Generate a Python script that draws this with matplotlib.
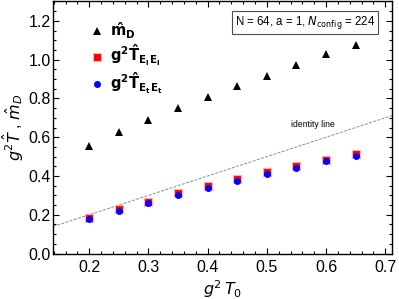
import matplotlib
matplotlib.use("Agg")
import matplotlib.pyplot as plt
from matplotlib.ticker import MultipleLocator

plt.rcParams["font.family"] = ["Liberation Sans", "DejaVu Sans"]
plt.rcParams["mathtext.fontset"] = "dejavusans"

# données
g2T0 = [0.20, 0.25, 0.30, 0.35, 0.40, 0.45, 0.50, 0.55, 0.60, 0.65]
mD = [0.554, 0.625, 0.691, 0.751, 0.807, 0.864, 0.917, 0.970, 1.027, 1.073]
T_ElEl = [0.185, 0.228, 0.267, 0.311, 0.348, 0.383, 0.419, 0.451, 0.480, 0.511]
T_EtEt = [0.178, 0.219, 0.262, 0.300, 0.339, 0.375, 0.410, 0.442, 0.475, 0.502]
xlim = (0.139, 0.711)
ylim = (0.0, 1.303)

fig = plt.figure(figsize=(3.99, 2.99), dpi=100)
ax = fig.add_axes([0.133, 0.152, 0.849, 0.845])

# ligne identité
ax.plot(xlim, xlim, ls=(0, (3, 1.5)), color="0.55", lw=0.7, zorder=1)
ax.text(0.577, 0.664, "identity line", fontsize=6.2, ha="center", va="center")

ax.plot(g2T0, mD, "^", color="black", ms=5.5, mew=0, label=r"$\mathbf{\hat{m}_D}$")
ax.plot(g2T0, T_ElEl, "s", color="red", ms=5.2, mew=0.8, mec="#ffb0b0",
        label=r"$\mathbf{g^2\hat{T}_{E_l\,E_l}}$")
ax.plot(g2T0, T_EtEt, "o", color="blue", ms=5, mew=0,
        label=r"$\mathbf{g^2\hat{T}_{E_t\,E_t}}$")

ax.set_xlim(*xlim)
ax.set_ylim(*ylim)
ax.xaxis.set_major_locator(MultipleLocator(0.1))
ax.xaxis.set_minor_locator(MultipleLocator(0.02))
ax.yaxis.set_major_locator(MultipleLocator(0.2))
ax.yaxis.set_minor_locator(MultipleLocator(0.05))
ax.tick_params(which="both", direction="in", top=True, right=True,
               labeltop=False, labelright=False, labelsize=11.5, width=0.8)
ax.tick_params(which="major", length=4)
ax.tick_params(which="minor", length=2)
ax.tick_params(axis="x", which="major", pad=5)
ax.tick_params(axis="y", which="major", pad=1.5)
for s in ax.spines.values():
    s.set_linewidth(1.0)

ax.set_xlabel(r"$g^2\,T_0$", fontsize=11.5, labelpad=2)
ax.set_ylabel(r"$g^2\hat{T}$ , $\hat{m}_D$", fontsize=11.5)
lab_x = -0.09
ax.yaxis.set_label_coords(lab_x, 0.5)

ax.legend(loc="upper left", bbox_to_anchor=(0.065, 0.976), frameon=False,
          fontsize=10.5, handletextpad=0.3, labelspacing=0.15, handlelength=1.2)

ax.text(0.951, 0.948, r"N = 64, a = 1, $N_{\rm config}$ = 224", transform=ax.transAxes,
        ha="right", va="top", fontsize=8.3,
        bbox=dict(boxstyle="square,pad=0.25", fc="white", ec="0.3", lw=0.8))

# garder le label y dans la figure
fig.canvas.draw()
bb = ax.yaxis.label.get_window_extent()
if bb.x0 < 1:
    ax_w = ax.get_window_extent().width
    ax.yaxis.set_label_coords(lab_x + (1 - bb.x0) / ax_w, 0.5)

fig.savefig("out.png", dpi=100)
